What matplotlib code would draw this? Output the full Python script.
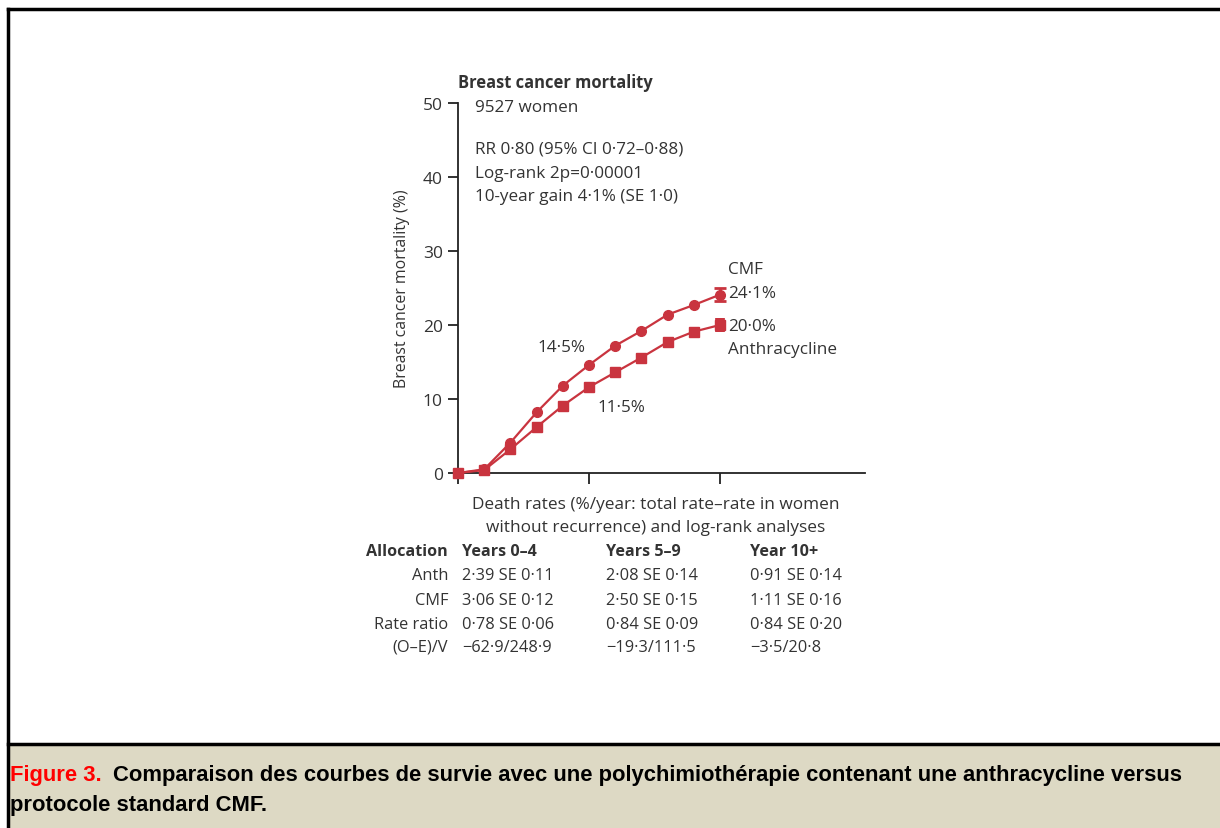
import matplotlib.pyplot as plt
from matplotlib.patches import Rectangle
from matplotlib.lines import Line2D

# data
years = [0, 1, 2, 3, 4, 5, 6, 7, 8, 9, 10]
cmf = [0.0, 0.5, 4.1, 8.2, 11.8, 14.6, 17.2, 19.2, 21.4, 22.7, 24.1]
anth = [0.0, 0.4, 3.2, 6.2, 9.1, 11.6, 13.6, 15.6, 17.7, 19.1, 20.0]
cmf_err = 0.9
anth_err = 1.0

table_cols = ["Years 0–4", "Years 5–9", "Year 10+"]
table_rows = ["Anth", "CMF", "Rate ratio", "(O–E)/V"]
table_cells = [
    ["2·39 SE 0·11", "2·08 SE 0·14", "0·91 SE 0·14"],
    ["3·06 SE 0·12", "2·50 SE 0·15", "1·11 SE 0·16"],
    ["0·78 SE 0·06", "0·84 SE 0·09", "0·84 SE 0·20"],
    ["−62·9/248·9", "−19·3/111·5", "−3·5/20·8"],
]

W, H = 1220, 829
RED = "#c9343f"
TXT = "#333333"
FONT = ["Open Sans", "DejaVu Sans"]
CAPFONT = ["Liberation Sans Narrow", "Liberation Sans", "DejaVu Sans"]
FS = 12.3
CAPFS = 15.8

plt.rcParams["font.family"] = FONT


def fx(x):
    return x / W


def fy(y):
    return 1 - y / H


fig = plt.figure(figsize=(W / 100, H / 100), dpi=100)
fig.patch.set_facecolor("white")

# frame lines and caption box
fig.add_artist(Line2D([fx(8), fx(8)], [fy(10), 0], color="black", lw=2.5))
fig.add_artist(Line2D([fx(8), 1], [fy(10), fy(10)], color="black", lw=2.5))
fig.add_artist(Rectangle((fx(9), 0), 1 - fx(9), fy(746), facecolor="#ddd9c4",
                         edgecolor="none"))
fig.add_artist(Line2D([fx(8), 1], [fy(745), fy(745)], color="black", lw=2.5))

fig.text(fx(10), fy(776), "Figure 3.", color="#ff0000", fontsize=CAPFS,
         fontweight="bold", family=CAPFONT, va="center")
fig.text(fx(113), fy(776),
         "Comparaison des courbes de survie avec une polychimiothérapie contenant une anthracycline versus",
         color="black", fontsize=CAPFS, fontweight="bold", family=CAPFONT, va="center")
fig.text(fx(10), fy(806), "protocole standard CMF.", color="black", fontsize=CAPFS,
         fontweight="bold", family=CAPFONT, va="center")

# main axes
x0, x1, y0, y1 = 458, 865, 474, 104
ax = fig.add_axes([fx(x0), fy(y0), fx(x1 - x0), (y0 - y1) / H])
ax.set_xlim(0, (x1 - x0) / 26.2)
ax.set_ylim(0, 50)
ax.set_facecolor("none")
for s in ["top", "right"]:
    ax.spines[s].set_visible(False)
for s in ["left", "bottom"]:
    ax.spines[s].set_color("#222222")
    ax.spines[s].set_linewidth(1.3)
    ax.spines[s].set_clip_on(False)
ax.set_yticks([0, 10, 20, 30, 40, 50])
ax.set_xticks([0, 5, 10])
ax.set_xticklabels([])
ax.tick_params(axis="y", direction="out", length=7, width=1.3, colors="#222222",
               labelsize=12.5, labelcolor=TXT, pad=4)
ax.tick_params(axis="x", direction="out", length=8, width=1.3, colors="#222222")
ax.set_ylabel("Breast cancer mortality (%)", fontsize=11.4, color=TXT, labelpad=9)

ax.plot(years, cmf, color=RED, lw=1.6, marker="o", ms=7, clip_on=False, zorder=3)
ax.plot(years, anth, color=RED, lw=1.6, marker="s", ms=6.5, clip_on=False, zorder=3)
ax.errorbar(years[-1], cmf[-1], yerr=cmf_err, color=RED, lw=2, capsize=4,
            capthick=2, zorder=4)
ax.errorbar(years[-1], anth[-1], yerr=anth_err, color=RED, lw=7, zorder=4)

ax.text(0, 52.8, "Breast cancer mortality", fontsize=11.9, fontweight="bold",
        color=TXT, va="center", ha="left")
ax.text(0.65, 49.4, "9527 women", fontsize=FS, color=TXT, va="center")
ax.text(0.65, 43.8, "RR 0·80 (95% CI 0·72–0·88)", fontsize=FS, color=TXT, va="center")
ax.text(0.65, 40.6, "Log-rank 2p=0·00001", fontsize=FS, color=TXT, va="center")
ax.text(0.65, 37.4, "10-year gain 4·1% (SE 1·0)", fontsize=FS, color=TXT, va="center")
ax.text(10.3, 27.6, "CMF", fontsize=FS, color=TXT, va="center")
ax.text(10.3, 24.3, "24·1%", fontsize=FS, color=TXT, va="center")
ax.text(10.3, 19.9, "20·0%", fontsize=FS, color=TXT, va="center")
ax.text(10.3, 16.7, "Anthracycline", fontsize=FS, color=TXT, va="center")
ax.text(3.95, 17.0, "14·5%", fontsize=FS, color=TXT, va="center", ha="center")
ax.text(6.25, 8.9, "11·5%", fontsize=FS, color=TXT, va="center", ha="center")

# table below the axes
fig.text(fx(656), fy(505), "Death rates (%/year: total rate–rate in women",
         fontsize=12.4, color=TXT, ha="center", va="center")
fig.text(fx(656), fy(528), "without recurrence) and log-rank analyses",
         fontsize=12.4, color=TXT, ha="center", va="center")
col_x = [462, 606, 750]
row_y = [576, 601, 625, 648]
fig.text(fx(448), fy(552), "Allocation", fontsize=11.6, fontweight="bold",
         color=TXT, ha="right", va="center")
for cx, lab in zip(col_x, table_cols):
    fig.text(fx(cx), fy(552), lab, fontsize=11.6, fontweight="bold", color=TXT,
             va="center")
for ry, rlab, cells in zip(row_y, table_rows, table_cells):
    fig.text(fx(448), fy(ry), rlab, fontsize=11.8, color=TXT, ha="right", va="center")
    for cx, c in zip(col_x, cells):
        fig.text(fx(cx), fy(ry), c, fontsize=11.8, color=TXT, va="center")

fig.savefig("out.png", dpi=100)
